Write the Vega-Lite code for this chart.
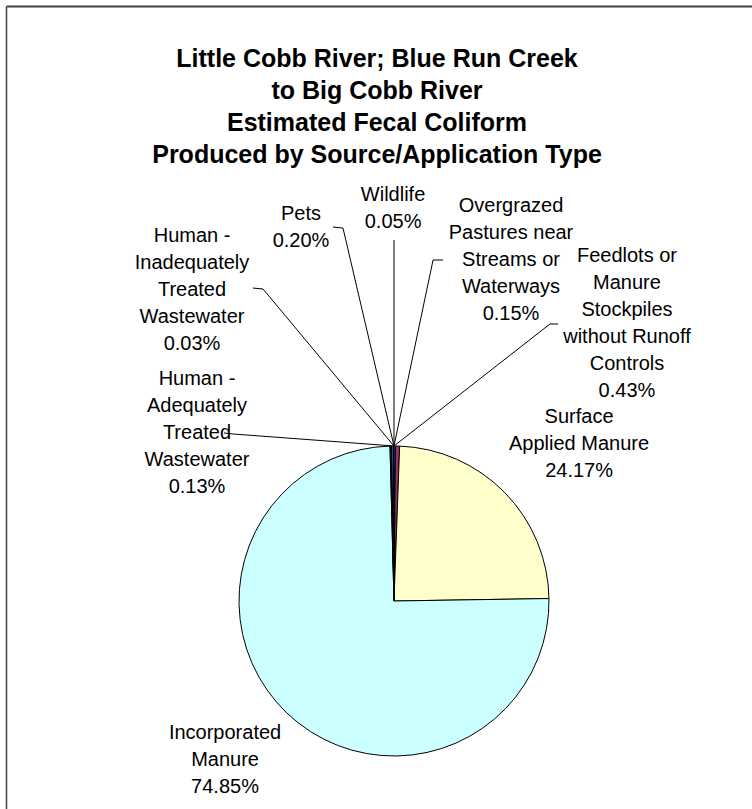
{
  "$schema": "https://vega.github.io/schema/vega-lite/v6.json",
  "width": 746,
  "height": 803,
  "autosize": {"type": "none"},
  "padding": {"left": 6, "top": 6, "right": 0, "bottom": 0},
  "background": "white",
  "config": {
    "view": {"stroke": null},
    "font": "Liberation Sans"
  },
  "title": {
    "text": ["Little Cobb River; Blue Run Creek", "to Big Cobb River", "Estimated Fecal Coliform", "Produced by Source/Application Type"],
    "font": "Liberation Sans",
    "fontSize": 25,
    "fontWeight": "bold",
    "color": "black",
    "lineHeight": 32,
    "anchor": "start",
    "align": "center",
    "offset": -162,
    "dx": 371
  },
  "datasets": {
    "slices": [
      {"source": "Overgrazed Pastures near Streams or Waterways", "percent": 0.15, "seq": 1},
      {"source": "Feedlots or Manure Stockpiles without Runoff Controls", "percent": 0.43, "seq": 2},
      {"source": "Surface Applied Manure", "percent": 24.17, "seq": 3},
      {"source": "Incorporated Manure", "percent": 74.85, "seq": 4},
      {"source": "Human - Adequately Treated Wastewater", "percent": 0.13, "seq": 5},
      {"source": "Human - Inadequately Treated Wastewater", "percent": 0.03, "seq": 6},
      {"source": "Pets", "percent": 0.20, "seq": 7},
      {"source": "Wildlife", "percent": 0.05, "seq": 8}
    ],
    "labels": [
      {"text": "Wildlife\n0.05%", "lx": -0.006, "ly": 2.581},
      {"text": "Pets\n0.20%", "lx": -0.6, "ly": 2.458},
      {"text": "Human -\nInadequately\nTreated\nWastewater\n0.03%", "lx": -1.303, "ly": 2.316},
      {"text": "Human -\nAdequately\nTreated\nWastewater\n0.13%", "lx": -1.271, "ly": 1.394},
      {"text": "Overgrazed\nPastures near\nStreams or\nWaterways\n0.15%", "lx": 0.755, "ly": 2.51},
      {"text": "Feedlots or\nManure\nStockpiles\nwithout Runoff\nControls\n0.43%", "lx": 1.503, "ly": 2.187},
      {"text": "Surface\nApplied Manure\n24.17%", "lx": 1.194, "ly": 1.148},
      {"text": "Incorporated\nManure\n74.85%", "lx": -1.09, "ly": -0.89}
    ],
    "leaders": [
      {"label": "Wildlife", "seq": 1, "lx": 0, "ly": 2.329},
      {"label": "Wildlife", "seq": 2, "lx": 0, "ly": 1},
      {"label": "Pets", "seq": 1, "lx": -0.394, "ly": 2.413},
      {"label": "Pets", "seq": 2, "lx": -0.329, "ly": 2.406},
      {"label": "Pets", "seq": 3, "lx": 0, "ly": 1},
      {"label": "Human inadequate", "seq": 1, "lx": -0.91, "ly": 2.019},
      {"label": "Human inadequate", "seq": 2, "lx": -0.845, "ly": 2.013},
      {"label": "Human inadequate", "seq": 3, "lx": 0, "ly": 1},
      {"label": "Human adequate", "seq": 1, "lx": -1.097, "ly": 1.084},
      {"label": "Human adequate", "seq": 2, "lx": -1.032, "ly": 1.077},
      {"label": "Human adequate", "seq": 3, "lx": 0, "ly": 1},
      {"label": "Overgrazed", "seq": 1, "lx": 0.316, "ly": 2.2},
      {"label": "Overgrazed", "seq": 2, "lx": 0.252, "ly": 2.2},
      {"label": "Overgrazed", "seq": 3, "lx": 0, "ly": 1},
      {"label": "Feedlots", "seq": 1, "lx": 1.058, "ly": 1.787},
      {"label": "Feedlots", "seq": 2, "lx": 1.006, "ly": 1.787},
      {"label": "Feedlots", "seq": 3, "lx": 0, "ly": 1}
    ]
  },
  "layer": [
    {
      "data": {"name": "slices"},
      "mark": {"type": "arc", "outerRadius": 155, "stroke": "black", "strokeWidth": 1},
      "encoding": {
        "theta": {"field": "percent", "type": "quantitative", "stack": true},
        "order": {"field": "seq", "type": "quantitative"},
        "color": {
          "field": "source",
          "type": "nominal",
          "legend": null,
          "scale": {
            "domain": ["Overgrazed Pastures near Streams or Waterways", "Feedlots or Manure Stockpiles without Runoff Controls", "Surface Applied Manure", "Incorporated Manure", "Human - Adequately Treated Wastewater", "Human - Inadequately Treated Wastewater", "Pets", "Wildlife"],
            "range": ["#9999FF", "#993366", "#FFFFCC", "#CCFFFF", "#660066", "#FF8080", "#0066CC", "#CCCCFF"]
          }
        },
        "x": {"datum": 0, "type": "quantitative", "axis": {"orient": "top", "labels": false, "ticks": false, "grid": false, "title": null, "domainColor": "#404040", "domainWidth": 2}, "scale": {"domain": [-2.5032, 2.3097], "nice": false, "zero": false}},
        "y": {"datum": 0, "type": "quantitative", "axis": {"orient": "left", "labels": false, "ticks": false, "grid": false, "title": null, "domainColor": "#404040", "domainWidth": 1.5}, "scale": {"domain": [-1.3419, 3.8387], "nice": false, "zero": false}}
      }
    },
    {
      "data": {"name": "leaders"},
      "mark": {"type": "line", "color": "black", "strokeWidth": 1},
      "encoding": {
        "x": {"field": "lx", "type": "quantitative", "scale": {"domain": [-2.5032, 2.3097], "nice": false, "zero": false}},
        "y": {"field": "ly", "type": "quantitative", "scale": {"domain": [-1.3419, 3.8387], "nice": false, "zero": false}},
        "detail": {"field": "label", "type": "nominal"},
        "order": {"field": "seq", "type": "quantitative"}
      }
    },
    {
      "data": {"name": "labels"},
      "mark": {"type": "text", "align": "center", "baseline": "alphabetic", "fontSize": 20, "lineHeight": 27, "lineBreak": "\n", "font": "Liberation Sans", "color": "black"},
      "encoding": {
        "x": {"field": "lx", "type": "quantitative", "scale": {"domain": [-2.5032, 2.3097], "nice": false, "zero": false}},
        "y": {"field": "ly", "type": "quantitative", "scale": {"domain": [-1.3419, 3.8387], "nice": false, "zero": false}},
        "text": {"field": "text", "type": "nominal"}
      }
    }
  ]
}
